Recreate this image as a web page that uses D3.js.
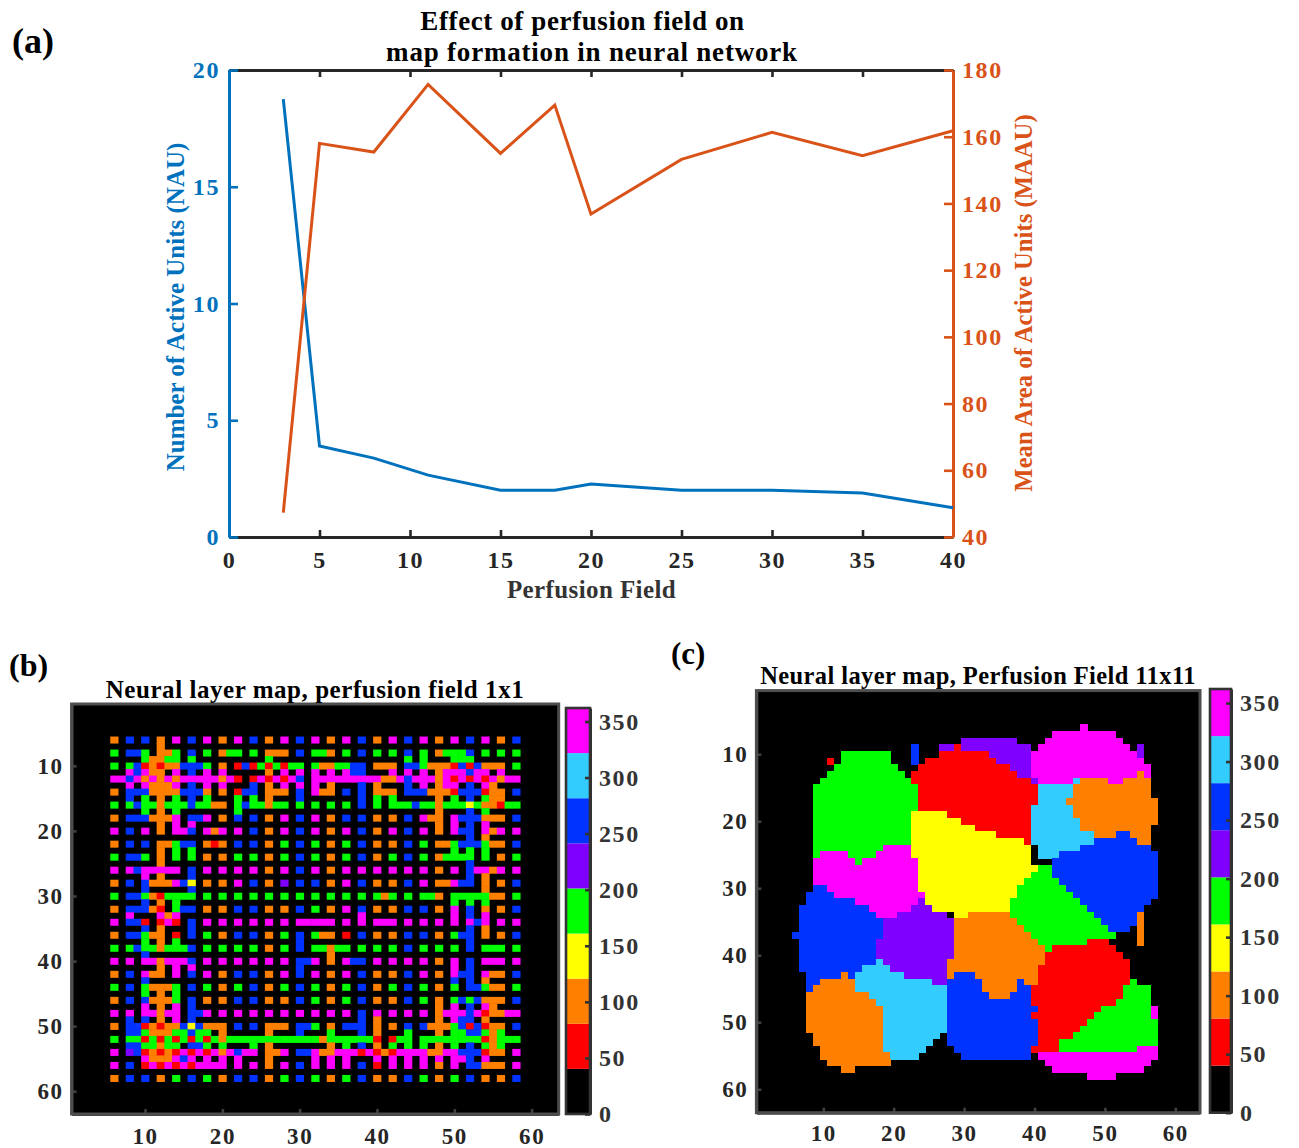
<!doctype html>
<html>
<head>
<meta charset="utf-8">
<style>
  html, body { margin: 0; padding: 0; background: #fff; }
  svg { display: block; }
  text { font-family: "Liberation Serif", serif; font-weight: bold; }
</style>
<script src="https://d3js.org/d3.v7.min.js"></script>
</head>
<body>
<svg width="1299" height="1148"></svg>
<script>
// panel (a)
var perfusionField = [3, 5, 8, 11, 15, 18, 20, 25, 30, 35, 40];
var nauValues = [18.75, 3.9, 3.38, 2.65, 2.0, 2.0, 2.27, 2.0, 2.0, 1.88, 1.25];
var maauValues = [47.3, 158, 155.4, 175.7, 155, 169.5, 136.8, 153.2, 161.3, 154.3, 161.8];
var xTicksA = [0, 5, 10, 15, 20, 25, 30, 35, 40];
var nauTicks = [0, 5, 10, 15, 20];
var maauTicks = [40, 60, 80, 100, 120, 140, 160, 180];

// maps (b) and (c): colour levels
var mapColors = ["#000000", "#ff0000", "#ff8000", "#ffff00", "#00ff00", "#8000ff", "#0033ff", "#33ccff", "#ff00ff"];
var levelValues = { R: 60, O: 100, Y: 140, G: 180, V: 220, B: 260, C: 300, M: 340 };
var colorbarTicks = [0, 50, 100, 150, 200, 250, 300, 350];
var mapTicks = [10, 20, 30, 40, 50, 60];
var mapMax = 362;

// rows start at row 6, "8-10B" = columns 8 to 10 have level B
var mapB = [
  "6O 8B 10B 12O 14M 16B 18M 20O 22M 24B 26O 28M 30B 32M 34O 36M 38B 40O 42M 44B 46M 48O 50M 52B 54M 56O 58B",
  "12O",
  "6G 8-9B 10G 12-13O 14G 16B 18G 20O 21-22G 24G 26-28O 30B 32-33G 34O 36G 38B 40G 42G 44B 46G 48O 49-51G 52B 54G 56G 58G",
  "10G 11-12O 13-14G 16G 26G 44G 46G 50-52G",
  "6G 8G 9B 10R 11O 12R 13-14O 15-17B 18G 20O 22R 23B 24R 25G 26R 27G 28R 29-30G 32G 33-34O 35-36G 37-38B 40-42O 44-45B 46G 47-49O 50R 51B 52R 53B 54-56O 58G",
  "8M 9B 10M 11-12O 14M 16B 18M 20M 26O 28M 30M 32M 34M 36M 37-38B 42M 44M 46M 48O 49-51M 52B 53-54M 56M",
  "6-7M 8B 9M 10O 11M 12O 13M 14O 15-19M 20O 21M 22R 24R 25M 26R 27M 28R 29M 30B 32-40M 41-42O 43M 44B 45-47M 48O 49M 50R 51M 52R 53M 54R 55M 56O 57-58M",
  "8M 10M 11-13O 14M 16B 18M 20M 24B 26O 28M 30M 32M 34O 38B 40O 44B 46M 48O 49-50M 52B 54M 55O",
  "6O 8-10B 11-14O 15-17B 18O 20O 22R 23-24B 26-28O 30B 32M 33-34O 36B 38B 40-42O 44-46B 47-49O 50R 51-53B 54R 55-56O 58B",
  "8B 10G 12O 14G 16B 18G 22G 24G 26O 30B 38B 40G 42G 48O 50G 52B 54G 55-56O",
  "6G 8G 9B 10-11G 12O 13-15G 16B 17-18G 19-20O 22G 23B 24-25G 26O 27-28G 30G 32G 34G 36G 38B 40G 42-44G 45B 46-47G 48O 49-51G 52Y 53G 54-55O 56R 57-58G",
  "10G 12O 14G 22G 48O 52B 54G",
  "6O 8-10B 11-13O 14M 16-17B 18M 20O 22B 24B 26O 28M 30B 32M 34O 36B 38B 40O 42O 44B 46M 47-48O 50M 51-53B 54-56O 58B",
  "12O 14M 16M 48O 50M 52B 54M",
  "6M 8B 10M 12O 14-15M 16B 18M 19O 20M 22M 24B 26O 28M 30B 32M 34O 36M 38B 40O 42M 44B 46M 48O 50M 51-52B 54M 55O 56M 58M",
  "52B 54O",
  "6O 8B 10B 12-13O 14G 15-16B 18O 19R 20O 22B 24B 26O 28G 30B 32G 34O 36G 38B 40O 42O 44B 46G 48-49O 50G 51-53B 54G 55-56O 58B",
  "12O 14G 16G 50G 52G 54G",
  "6G 8-9B 10G 12O 14G 16G 18O 20O 22G 24G 26O 28G 30B 32G 34O 36G 38B 40O 42G 44B 46G 48O 49-52G 54G 56O 58G",
  "12O 52B",
  "6M 8M 9B 10-14M 16B 18M 20M 22M 24M 26O 28M 30B 32M 34O 36M 38M 40M 42M 44M 46M 48O 50M 52B 53-54M 55O 56M 58M",
  "10M 12O 16B 52B 54O",
  "6O 8B 10B 11-13O 14M 15B 16Y 18O 20O 22M 24B 26O 28V 30B 32B 34O 36M 38B 40O 42O 44B 46M 48-49O 50M 51-52B 54O 56O 58B",
  "10B 16B 54O",
  "6G 8-9B 10G 11O 12R 13-16G 18G 20G 22G 24G 26G 28G 30G 32G 34G 36G 38G 40G 41O 42G 44G 46-47G 48O 50-54G 55-56O 58G",
  "10B 12O 14G 50G 52G 54G",
  "6O 8-10B 11O 12R 14G 15-16B 18O 20O 22B 24B 26O 28O 30B 32G 34O 36M 38B 40O 42O 44B 46B 48O 50M 52B 54O 56O 58B",
  "8M 12M 13O 14M 38M 50M 52B 54M",
  "6M 8-9B 10R 12R 13M 14R 16B 18M 20M 22M 24M 26M 28M 30-34M 36M 38M 40-42M 44M 46M 48M 50M 52M 53B 54M 56M 58M",
  "10B 12O 16B 52B 54O",
  "6O 8-9B 10G 11-12O 14R 16B 18G 20O 22B 24B 26O 28G 30B 32G 33-34O 36R 38B 40O 42O 44B 46B 48O 50G 51-52B 54O 56O 58B",
  "10G 12O 14G 30B 52B",
  "6G 8G 9B 10-11G 12O 13-15G 16B 18G 20G 22G 24G 26O 28G 30B 32-33G 34O 35-36G 38G 40G 42G 44B 46G 48G 50G 52B 54-56G 58G",
  "10B 34O",
  "6M 8M 10-11M 12O 13-15M 16B 18M 20M 22M 24M 26M 28M 30-31B 32M 34O 36M 37-38B 40M 42M 44M 46M 48O 50M 52B 54-56M 58M",
  "12O 14M 16M 30B 50M 52B",
  "6O 8B 10M 11-12O 14M 16B 18M 20O 22B 24B 26O 28M 30B 32M 34O 36M 38B 40O 42O 44B 46M 48O 50M 51-52B 54M 55-56O 58B",
  "10B 50B 52B 54O",
  "6G 8B 10G 11-13O 14G 16B 18G 20O 22G 24B 26O 28G 30B 32G 34O 36G 38B 40O 42G 44B 46G 48O 50G 52-53B 54G 55-56O 58G",
  "10G 12O 14G",
  "6O 8B 10B 11-13O 14G 16B 18O 20O 22B 24B 26O 28O 30B 32G 34O 36G 38B 40O 42O 44B 46G 48O 50G 51B 52G 53B 54-56O 58B",
  "10M 12O 14M 16B 48O 50M 52B 54M 55O",
  "6M 8M 10-11M 12O 13-14M 16-17B 18M 20M 22M 24M 26M 28M 30M 32M 34M 36M 38B 40M 42M 44M 46M 48O 49-51M 52B 53M 54R 55-56O 57-58M",
  "8B 10B 12O 14M 16B 38B 40O 48O 50M 51-52B 54O",
  "6O 8-9B 10R 11O 12R 13-14O 15B 16Y 17B 18-20O 22B 24B 26-28O 30-31B 32G 34O 36-38B 40O 42O 44B 46B 47-49O 50G 51B 52R 53B 54R 55-56O 58B",
  "8-9B 10G 11-13O 14-15G 16B 17-18G 20O 26O 30B 34G 38B 40O 44G 48O 50-51G 52-53B 54G 55O 56G",
  "6G 8-9G 10R 11G 12R 13G 14R 15G 16R 17G 18R 19G 20O 21-32G 33O 34-39G 40R 42R 43-44G 46-53G 54R 55O 56-58G",
  "8-9B 10-11G 12O 13-14G 16-17B 18G 20G 24G 26O 34O 36G 38B 40O 42G 44G 46G 48O 50G 52B 54G 55O 56G",
  "6M 8V 9B 10R 11O 12R 13O 14R 15M 16R 17M 18R 19M 20O 21M 22B 23-24M 26-27O 28M 30-31B 32M 33-34O 35-37M 38R 39M 40R 41O 42R 43-46M 47-48O 49-50M 51-53B 54R 55-56O 58M",
  "10M 11-13O 14M 15B 16M 18M 20M 22M 26O 32M 34M 36M 40M 42M 44M 46M 48M 50-51M 52B 54M",
  "6M 8B 10R 11M 12R 13M 14R 15M 16R 17-20M 22M 24M 26O 28M 30B 32M 34M 36M 38B 40R 42M 44M 46M 48O 50M 52-53B 54-56O 58M",
  "",
  "6O 8B 10B 12O 14G 16B 18G 20O 22B 24B 26O 28G 30B 32G 34O 36G 38B 40O 42O 44B 46G 48O 50G 52B 54O 56O 58B"
];

var mapC = [
  "47M",
  "43-51M",
  "30-37V 42-52M",
  "23B 27-28V 29R 30-39V 41-53M 55V",
  "13-19G 23B 27-33R 34-39V 40-54M 55V",
  "11R 13-19G 23B 25-34R 35-39V 40-55M",
  "12-20G 24-36R 37-39V 40-56M",
  "11-21G 23-37R 38-39V 40-54M 55O 56M",
  "10-22G 23-39R 40V 41-45M 46C 47-50O 51-52M 53-56O",
  "9-23G 24-40R 41-45C 46-56O",
  "9-23G 24-40R 41-45C 46-56O",
  "9-23G 24-40R 41-44C 45-57O",
  "9-23G 24-39R 40-45C 46-57O",
  "9-22G 23-27Y 28-39R 40-45C 46-57O",
  "9-22G 23-29Y 30-39R 40-46C 47-57O",
  "9-22G 23-31Y 32-39R 40-46C 47-56O",
  "9-22G 23-34Y 35-39R 40-48C 49-51O 52-53B 54-56O",
  "9-22G 23-38Y 39R 40-48C 49-54B 55-56O",
  "9-18G 19-22M 23-39Y 41-46C 47-56B",
  "9G 10-13M 14-17G 18-22M 23-39Y 41-43C 44-57B",
  "9-14M 15G 16-23M 24-39Y 43-57B",
  "9-23M 24-40Y 41-42G 43-57B",
  "9-23M 24-39Y 40-42G 43-57B",
  "9-23M 24-38Y 39-43G 44-57B",
  "9-10B 11-23M 24-37Y 38-44G 45-57B",
  "8-11B 12-24M 25-37Y 38-45G 46-57B",
  "8-14B 15-23M 24V 25-36Y 37-46G 47-56B",
  "7-16B 17-22M 23-25V 26-36Y 37-47G 48-55B",
  "7-17B 18-20M 21-27V 29-30Y 31-36O 37-48G 49-54B 55O",
  "7-18B 19-28V 29-37O 38-49G 50-54B 55O",
  "7-18B 19-28V 29-38O 39-50G 51-53B 55O",
  "6-18B 19-28V 29-39O 40-51G 55O",
  "7-17B 18-28V 29-40O 41-47G 48-50R 55O",
  "7-17B 18-28V 29-41O 42G 43-51R",
  "7-17B 18-28V 29-41O 42-52R",
  "7-17B 18C 19-27V 28-41O 42-53R",
  "7-15B 16-19C 20-27V 28-40O 41-53R",
  "8-12B 13O 14B 15-21C 22-27V 28O 29-31B 32-40O 41-53R",
  "8-9B 10-14O 15-25C 26-27V 28-32B 33-37O 38B 39-40O 41-53R 54G",
  "8B 9-14O 15-27C 28-32B 33-37O 38-39B 40-52R 53-56G",
  "8-16O 17-27C 28-33B 34-36O 37-39B 40-52R 53-56G",
  "8-17O 18-27C 28-39B 40-51R 52-56G",
  "8-18O 19-27C 28-40B 41-49R 50-56G 57M",
  "8-18O 19-27C 28-39B 40-48R 49-56G 57M",
  "8-18O 19-27C 28-40B 41-47R 48-57G",
  "8-18O 19-27C 28-40B 41-46R 47-57G",
  "9-18O 19-26C 28-40B 41-45R 46-57G",
  "9-18O 19-25C 28-40B 41-43R 44-57G",
  "10-18O 19-24C 29-39B 40-43R 44-54G 55-57M",
  "10-19O 20-23C 30-39B 41-57M",
  "11-19O 42-56M",
  "13-14O 43-55M",
  "48-51M"
];

var svg = d3.select("svg");
var dark = "#262626";

function label(x, y, txt, size, fill, anchor, spacing) {
  return svg.append("text")
    .attr("x", x).attr("y", y)
    .attr("font-size", size)
    .attr("fill", fill || "#000")
    .attr("text-anchor", anchor || "middle")
    .attr("letter-spacing", spacing || 0)
    .text(txt);
}

function styleAxis(g, color, size) {
  g.selectAll("path").attr("stroke", color).attr("stroke-width", 3);
  g.selectAll("line").attr("stroke", color).attr("stroke-width", 2.6);
  g.selectAll("text")
    .attr("fill", color)
    .attr("font-size", size)
    .attr("font-family", '"Liberation Serif", serif')
    .attr("letter-spacing", "1.6px");
}

// ---------- panel (a) ----------
var left = 229, right = 953, top_ = 70, bottom = 537;
var x = d3.scaleLinear().domain([0, 40]).range([left, right]);
var yNau = d3.scaleLinear().domain([0, 20]).range([bottom, top_]);
var yMaau = d3.scaleLinear().domain([40, 180]).range([bottom, top_]);

var blue = "#0072bd", red = "#d95319";

var axTop = svg.append("g").attr("transform", "translate(0," + top_ + ")")
  .call(d3.axisBottom(x).tickValues(xTicksA).tickSize(7).tickSizeOuter(0).tickFormat(""));
styleAxis(axTop, dark, 24);
var axBottom = svg.append("g").attr("transform", "translate(0," + bottom + ")")
  .call(d3.axisTop(x).tickValues(xTicksA).tickSize(7).tickSizeOuter(0));
styleAxis(axBottom, dark, 24);
axBottom.selectAll("text").attr("y", 31);
var axLeft = svg.append("g").attr("transform", "translate(" + left + ",0)")
  .call(d3.axisRight(yNau).tickValues(nauTicks).tickSize(9).tickSizeOuter(0));
styleAxis(axLeft, blue, 24);
axLeft.selectAll("text").attr("x", -9).attr("text-anchor", "end");
var axRight = svg.append("g").attr("transform", "translate(" + right + ",0)")
  .call(d3.axisLeft(yMaau).tickValues(maauTicks).tickSize(9).tickSizeOuter(0));
styleAxis(axRight, red, 24);
axRight.selectAll("text").attr("x", 9).attr("text-anchor", "start");

svg.append("path").attr("fill", "none").attr("stroke", blue).attr("stroke-width", 3)
  .attr("d", d3.line().x(function(d, i) { return x(perfusionField[i]); }).y(function(d) { return yNau(d); })(nauValues));
svg.append("path").attr("fill", "none").attr("stroke", red).attr("stroke-width", 3)
  .attr("d", d3.line().x(function(d, i) { return x(perfusionField[i]); }).y(function(d) { return yMaau(d); })(maauValues));

label(582.5, 30, "Effect of perfusion field on", 27, "#000", "middle", 0.6);
label(592, 61, "map formation in neural network", 27, "#000", "middle", 0.8);
label(591.5, 598, "Perfusion Field", 25, "#333", "middle", 0.4);
label(0, 0, "Number of Active Units (NAU)", 25, blue).attr("transform", "translate(184,307) rotate(-90)");
label(0, 0, "Mean Area of Active Units (MAAU)", 24.7, red).attr("transform", "translate(1032,303) rotate(-90)");
label(12, 53, "(a)", 36, "#000", "start");
label(9, 676, "(b)", 32, "#000", "start");
label(671, 664, "(c)", 31, "#000", "start");

// ---------- maps ----------
function parseRows(rows) {
  var cells = [];
  rows.forEach(function(row, i) {
    row.split(" ").forEach(function(part) {
      var m = part.match(/^(\d+)(?:-(\d+))?([A-Z])$/);
      if (!m) return;
      var from = +m[1], to = m[2] ? +m[2] : from;
      for (var c = from; c <= to; c++) {
        cells.push({ col: c, row: i + 6, value: levelValues[m[3]] });
      }
    });
  });
  return cells;
}

var color = d3.scaleQuantize().domain([0, mapMax]).range(mapColors);

function drawMap(rows, p) {
  var cols = d3.range(1, 64);
  var bx = d3.scaleBand().domain(cols).range([p.x0, p.x1]);
  var by = d3.scaleBand().domain(cols).range([p.y0, p.y1]);

  svg.append("rect").attr("x", p.x0).attr("y", p.y0)
    .attr("width", p.x1 - p.x0).attr("height", p.y1 - p.y0).attr("fill", "#000");

  // b has small dots that look better soft, c has big blobs that need no seams
  svg.append("g").attr("shape-rendering", p.rendering).selectAll("rect")
    .data(parseRows(rows))
    .enter().append("rect")
    .attr("x", function(d) { return bx(d.col); })
    .attr("y", function(d) { return by(d.row); })
    .attr("width", bx.bandwidth() + p.overlap)
    .attr("height", by.bandwidth() + p.overlap)
    .attr("fill", function(d) { return color(d.value); });

  var ax = d3.scaleLinear().domain([0.5, 63.5]).range([p.x0, p.x1]);
  var ay = d3.scaleLinear().domain([0.5, 63.5]).range([p.y0, p.y1]);

  var gx = svg.append("g").attr("transform", "translate(0," + p.y1 + ")")
    .call(d3.axisTop(ax).tickValues(mapTicks).tickSize(5).tickSizeOuter(0));
  styleAxis(gx, "#404040", 23);
  gx.selectAll("text").attr("y", p.xLabelDy).attr("fill", "#262626");

  var gy = svg.append("g").attr("transform", "translate(" + p.x0 + ",0)")
    .call(d3.axisRight(ay).tickValues(mapTicks).tickSize(5).tickSizeOuter(0));
  styleAxis(gy, "#404040", 23);
  gy.selectAll("text").attr("x", -8).attr("text-anchor", "end").attr("fill", "#262626");

  svg.append("rect").attr("x", p.x0).attr("y", p.y0)
    .attr("width", p.x1 - p.x0).attr("height", p.y1 - p.y0)
    .attr("fill", "none").attr("stroke", "#4d4d4d").attr("stroke-width", 3);

  // colorbar
  var cb = d3.scaleLinear().domain([0, mapMax]).range([p.y1, p.cbTop]);
  var step = mapMax / mapColors.length;
  svg.append("g").selectAll("rect")
    .data(mapColors)
    .enter().append("rect")
    .attr("x", p.cbX0)
    .attr("width", p.cbX1 - p.cbX0)
    .attr("y", function(d, i) { return cb((i + 1) * step); })
    .attr("height", function(d, i) { return cb(i * step) - cb((i + 1) * step); })
    .attr("fill", function(d) { return d; });
  var gc = svg.append("g").attr("transform", "translate(" + p.cbX1 + ",0)")
    .call(d3.axisLeft(cb).tickValues(colorbarTicks).tickSize(5).tickSizeOuter(0));
  styleAxis(gc, "#333", 24);
  gc.selectAll("text").attr("x", 9).attr("text-anchor", "start");
  svg.append("rect").attr("x", p.cbX0).attr("y", p.cbTop)
    .attr("width", p.cbX1 - p.cbX0).attr("height", p.y1 - p.cbTop)
    .attr("fill", "none").attr("stroke", "#333").attr("stroke-width", 2.6);

  label(p.titleX, p.titleY, p.title, p.titleSize, "#000", "middle", p.titleSpacing);
}

drawMap(mapB, {
  x0: 71.6, x1: 558.7, y0: 704, y1: 1114,
  cbX0: 566, cbX1: 590, cbTop: 708, xLabelDy: 30,
  rendering: "auto", overlap: 0.5,
  title: "Neural layer map, perfusion field 1x1", titleX: 315, titleY: 698, titleSize: 25, titleSpacing: 0.55
});
drawMap(mapC, {
  x0: 756.4, x1: 1200, y0: 690.6, y1: 1112.7,
  cbX0: 1210, cbX1: 1231, cbTop: 689, xLabelDy: 28,
  rendering: "crispEdges", overlap: 0.4,
  title: "Neural layer map, Perfusion Field 11x11", titleX: 978, titleY: 684, titleSize: 24.5, titleSpacing: 0.4
});
</script>
</body>
</html>
